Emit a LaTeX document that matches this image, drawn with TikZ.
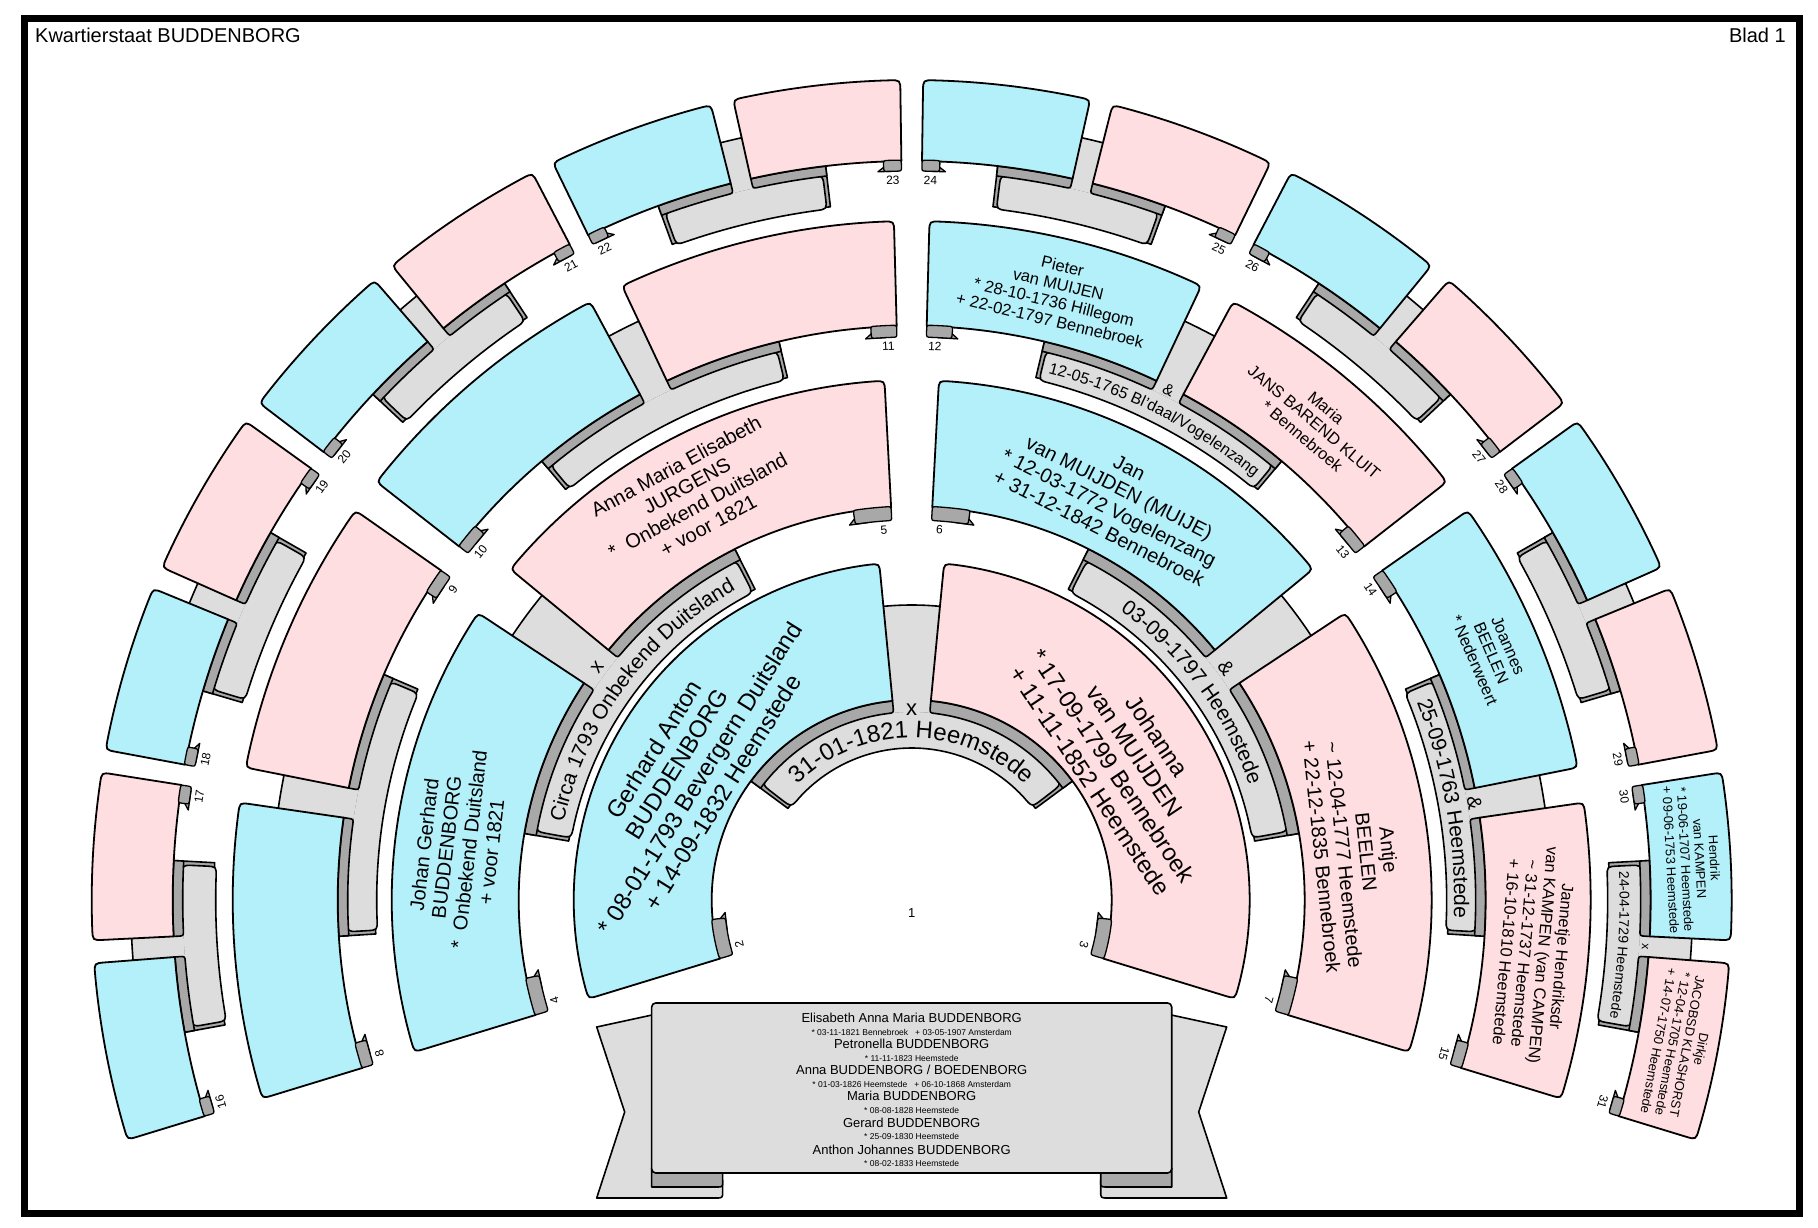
\documentclass[tikz,border=0pt]{standalone}
\usepackage{fontspec}
\setmainfont{Liberation Sans}
\usetikzlibrary{decorations.text}
\definecolor{mblue}{RGB}{180,240,250}
\definecolor{fpink}{RGB}{255,222,225}
\definecolor{lgray}{RGB}{221,221,221}
\definecolor{dgray}{RGB}{168,168,168}
% rounded annular sector: a1 a2 r1 r2, corner radii at (a1,r1) (a1,r2) (a2,r2) (a2,r1)
\newcommand{\RS}[8]{({#1}:{#3+#5}) -- ({#1}:{#4-#6}) .. controls ({#1}:{#4}) .. ({#1+#6/(#4)*57.2958}:{#4}) arc[start angle={#1+#6/(#4)*57.2958}, end angle={#2-#7/(#4)*57.2958}, radius={#4}] .. controls ({#2}:{#4}) .. ({#2}:{#4-#7}) -- ({#2}:{#3+#8}) .. controls ({#2}:{#3}) .. ({#2-#8/(#3)*57.2958}:{#3}) arc[start angle={#2-#8/(#3)*57.2958}, end angle={#1+#5/(#3)*57.2958}, radius={#3}] .. controls ({#1}:{#3}) .. ({#1}:{#3+#5}) -- cycle}
\begin{document}
\begin{tikzpicture}[x=1pt,y=1pt,
  boxst/.style={draw=black,line width=1.8pt,line join=round},
  ribst/.style={draw=black,fill=lgray,line width=1.6pt,line join=round},
  darkst/.style={draw=black,fill=dgray,line width=1.6pt,line join=round},
  tabst/.style={draw=black,fill=dgray,line width=1.3pt,line join=round},
  numlab/.style={font=\fontsize{12}{12}\selectfont,inner sep=0pt},
  ptxt/.style={align=center,inner sep=0pt},
  fa/.style={font=\fontsize{24}{27}\selectfont},
  fb/.style={font=\fontsize{20}{22.5}\selectfont},
  fc/.style={font=\fontsize{16.5}{18.5}\selectfont},
  fd/.style={font=\fontsize{13}{14.5}\selectfont},
  cname/.style={anchor=base,inner sep=0pt,font=\fontsize{13}{13}\selectfont},
  cdate/.style={anchor=base,inner sep=0pt,font=\fontsize{8.5}{8.5}\selectfont},
]
\useasboundingbox (-911.7,-327) rectangle (906.3,900);
\fill[white] (-911.7,-327) rectangle (906.3,900);
\draw[line width=6.5pt] (-887.4,881.7) rectangle (888,-313.7);
\node[anchor=base west,font=\fontsize{20}{22}\selectfont,inner sep=0pt] (title) at (-876.7,857) {Kwartierstaat BUDDENBORG};
\node[anchor=base east,font=\fontsize{20}{22}\selectfont,inner sep=0pt] (blad) at (874.3,857) {Blad 1};

% ---------- marriage ribbons ----------
\foreach \n/\ri/\g/\W/\rr/\st/\tk in {1/200/11/37/13/295/12,2/393/6/36/13/479/12,3/574/3/30/11/640/10,4/739/1.6/34/11/781/10}{
  \pgfmathtruncatemacro\N{2^\n}
  \pgfmathsetmacro\s{214/\N}
  \pgfmathtruncatemacro\M{\N/2-1}
  \pgfmathsetmacro\dA{4/\ri*57.2958}
  \pgfmathsetmacro\rt{\ri-\tk+1}
  \pgfmathsetmacro\rb{\rt-\W}
  \foreach \jj in {0,...,\M}{
    \pgfmathsetmacro\cc{197-(2*\jj+1)*\s}
    \pgfmathsetmacro\am{\cc+\s/2}
    \pgfmathsetmacro\af{\cc-\s/2}
    \path[darkst] \RS{\am-2*\dA}{\am}{\rb+2}{\ri}{0}{0}{0}{0};
    \path[darkst] \RS{\af}{\af+2*\dA}{\rb+2}{\ri}{0}{0}{0}{0};
    \path[ribst] \RS{\af+\dA}{\am-\dA}{\rb}{\rt}{\rr}{\rr}{\rr}{\rr};
    \fill[lgray] \RS{\cc-\g}{\cc+\g}{\rt-1}{\st}{0}{0}{0}{0};
    \draw[line width=1.6pt] ({\cc-\g}:\st) arc[start angle={\cc-\g},end angle={\cc+\g},radius=\st];
    \path[darkst] \RS{\cc+\g/2}{\am}{\ri-\tk}{\ri}{6}{0}{0}{0};
    \path[darkst] \RS{\af}{\cc-\g/2}{\ri-\tk}{\ri}{0}{0}{0}{6};
  }
}

% ---------- person boxes ----------
\foreach \n/\ri/\ro/\g in {1/200/338/11,2/393/520/6,3/574/679/3,4/739/820/1.6}{
  \pgfmathtruncatemacro\N{2^\n}
  \pgfmathsetmacro\s{214/\N}
  \pgfmathtruncatemacro\last{\N-1}
  \foreach \ii in {0,...,\last}{
    \pgfmathsetmacro\hi{197-\ii*\s}
    \pgfmathsetmacro\lo{\hi-\s}
    \pgfmathsetmacro\hiT{\ii==0 ? \hi : \hi-\g/2}
    \pgfmathsetmacro\loT{\ii==\last ? \lo : \lo+\g/2}
    \pgfmathtruncatemacro\odd{mod(\ii,2)}
    \ifnum\odd=0 \def\col{mblue}\else\def\col{fpink}\fi
    \path[boxst,fill=\col] \RS{\loT}{\hiT}{\ri}{\ro}{0}{11}{11}{0};
  }
}

% ---------- number tabs ----------
\foreach \n/\ri/\g/\Lp/\h in {1/200/11/40/13,2/393/6/38/13,3/574/3/26/11,4/739/1.6/18/10}{
  \pgfmathtruncatemacro\N{2^\n}
  \pgfmathsetmacro\s{214/\N}
  \pgfmathtruncatemacro\last{\N-1}
  \pgfmathsetmacro\uu{57.2958/\ri}
  \foreach \ii in {0,...,\last}{
    \pgfmathsetmacro\hi{197-\ii*\s}
    \pgfmathsetmacro\lo{\hi-\s}
    \pgfmathsetmacro\hiT{\ii==0 ? \hi : \hi-\g/2}
    \pgfmathsetmacro\loT{\ii==\last ? \lo : \lo+\g/2}
    \pgfmathtruncatemacro\odd{mod(\ii,2)}
    \pgfmathtruncatemacro\kk{\N+\ii}
    \ifnum\odd=0 \let\at\hiT \def\sd{(-1)}\else \let\at\loT \def\sd{(1)}\fi
    \draw[tabst] ({\at+\sd*(\Lp-8)*\uu}:{\ri}) -- ({\at+\sd*(\Lp+6)*\uu}:{\ri-\h}) -- ({\at+\sd*(\Lp-14)*\uu}:{\ri-\h}) -- cycle;
    \pgfmathsetmacro\pa{min(\at,\at+\sd*\Lp*\uu)}
    \pgfmathsetmacro\pb{max(\at,\at+\sd*\Lp*\uu)}
    \path[tabst] \RS{\pa}{\pb}{\ri-\h}{\ri+1}{5}{5}{5}{5};
    \pgfmathsetmacro\la{\at+\sd*9*\uu}
    \node[numlab,rotate=\la-90] (n\kk) at (\la:{\ri-\h-9}) {\kk};
  }
}

\node[numlab,font=\fontsize{13}{13}\selectfont] (p1) at (0,-13) {1};

% ---------- person texts ----------
\node[ptxt,fa,rotate=58] (t2) at (150:258) {Gerhard Anton\\BUDDENBORG\\* 08-01-1793 Bevergern Duitsland\\+ 14-09-1832 Heemstede};
\node[ptxt,fa,rotate=-56.25] (t3) at (33.75:255) {Johanna\\van MUIJDEN\\* 17-09-1799 Bennebroek\\+ 11-11-1852 Heemstede};
\node[ptxt,fb,rotate=83.5] (t4) at (173.5:457) {Johan Gerhard\\BUDDENBORG\\* \ Onbekend Duitsland\\+ voor 1821};
\node[ptxt,fb,rotate=28.5] (t5) at (118.5:460) {Anna Maria Elisabeth\\JURGENS\\* \ Onbekend Duitsland\\+ voor 1821};
\node[ptxt,fb,rotate=-26.75] (t6) at (63.25:450) {Jan\\van MUIJDEN (MUIJE)\\* 12-03-1772 Vogelenzang\\+ 31-12-1842 Bennebroek};
\node[ptxt,fb,rotate=-84] (t7) at (6:446) {Antje\\BEELEN\\\textasciitilde{} 12-04-1777 Heemstede\\+ 22-12-1835 Bennebroek};
\node[ptxt,fc,rotate=-13.4] (t12) at (76.6:624) {Pieter\\van MUIJEN\\* 28-10-1736 Hillegom\\+ 22-02-1797 Bennebroek};
\node[ptxt,fc,rotate=-40.1] (t13) at (49.9:625) {Maria\\JANS BAREND KLUIT\\* Bennebroek};
\node[ptxt,fc,rotate=-66.9] (t14) at (23.1:630) {Joannes\\BEELEN\\* Nederweert};
\node[ptxt,fc,rotate=-95] (t15) at (-5:625) {Jannetje Hendriksdr\\van KAMPEN (van CAMPEN)\\\textasciitilde{} 31-12-1737 Heemstede\\+ 16-10-1810 Heemstede};
\node[ptxt,fd,rotate=-87] (t30) at (3:782) {Hendrik\\van KAMPEN\\* 19-06-1707 Heemstede\\+ 09-06-1753 Heemstede};
\node[ptxt,fd,rotate=-100.7] (t31) at (-10.7:782) {Dirkje\\JACOBSD KLASHORST\\* 12-04-1705 Heemstede\\+ 14-07-1750 Heemstede};

% ---------- marriage texts ----------
\path[decorate,decoration={text along path,text align=center,text={|\fontsize{24}{24}\selectfont|31-01-1821 Heemstede}}] (143.5:162) arc[start angle=143.5,end angle=36.5,radius=162];
\path[decorate,decoration={text along path,text align=center,text={|\fontsize{21}{21}\selectfont|Circa 1793 Onbekend Duitsland}}] (170.25:356.5) arc[start angle=170.25,end angle=116.75,radius=356.5];
\path[decorate,decoration={text along path,text align=center,text={|\fontsize{21}{21}\selectfont|03-09-1797 Heemstede}}] (63.25:356.5) arc[start angle=63.25,end angle=9.75,radius=356.5];
\path[decorate,decoration={text along path,text align=center,text={|\fontsize{16}{16}\selectfont|12-05-1765 Bl'daal/Vogelenzang}}] (76.625:544) arc[start angle=76.625,end angle=49.875,radius=544];
\path[decorate,decoration={text along path,text align=center,text={|\fontsize{21}{21}\selectfont|25-09-1763 Heemstede}}] (23.125:542.5) arc[start angle=23.125,end angle=-3.625,radius=542.5];
\path[decorate,decoration={text along path,text align=center,text={|\fontsize{14}{14}\selectfont|24-04-1729 Heemstede}}] (3.0625:708) arc[start angle=3.0625,end angle=-10.3125,radius=708];

\node[inner sep=0pt,font=\fontsize{22}{22}\selectfont] (m1) at (90:190) {x};
\node[inner sep=0pt,font=\fontsize{20}{20}\selectfont,rotate=53.5] (m2) at (143.5:391) {x};
\node[inner sep=0pt,font=\fontsize{20}{20}\selectfont,rotate=-53.5] (m3) at (36.5:391) {\&};
\node[inner sep=0pt,font=\fontsize{16}{16}\selectfont,rotate=-26.75] (m6) at (63.25:571) {\&};
\node[inner sep=0pt,font=\fontsize{20}{20}\selectfont,rotate=-80.25] (m7) at (9.75:571) {\&};
\node[inner sep=0pt,font=\fontsize{12}{12}\selectfont,rotate=-93.6] (m15) at (-3.625:735) {x};

% ---------- children banner ----------
\draw[ribst] (-315,-127) -- (-255,-114) -- (-255,-280) -- (-189,-280) -- (-189,-291) .. controls (-189,-298) .. (-196,-298) -- (-315,-298) -- (-287,-212) -- cycle;
\draw[ribst] (315,-127) -- (255,-114) -- (255,-280) -- (189,-280) -- (189,-291) .. controls (189,-298) .. (196,-298) -- (315,-298) -- (287,-212) -- cycle;
\draw[darkst] (-260,-268) -- (-195,-268) .. controls (-189,-268) .. (-189,-274) -- (-189,-281) .. controls (-189,-287) .. (-195,-287) -- (-260,-287) -- cycle;
\draw[darkst] (260,-268) -- (195,-268) .. controls (189,-268) .. (189,-274) -- (189,-281) .. controls (189,-287) .. (195,-287) -- (260,-287) -- cycle;
\draw[ribst,rounded corners=4] (-260,-103) rectangle (260,-273);
\node[cname] (c1) at (0,-122.4) {Elisabeth Anna Maria BUDDENBORG};
\node[cdate] (d1) at (0,-135.7) {* 03-11-1821 Bennebroek\hspace{7pt}+ 03-05-1907 Amsterdam};
\node[cname] (c2) at (0,-148.4) {Petronella BUDDENBORG};
\node[cdate] (d2) at (0,-161.3) {* 11-11-1823 Heemstede};
\node[cname] (c3) at (0,-174.7) {Anna BUDDENBORG / BOEDENBORG};
\node[cdate] (d3) at (0,-187.3) {* 01-03-1826 Heemstede\hspace{7pt}+ 06-10-1868 Amsterdam};
\node[cname] (c4) at (0,-200.7) {Maria BUDDENBORG};
\node[cdate] (d4) at (0,-213) {* 08-08-1828 Heemstede};
\node[cname] (c5) at (0,-227.4) {Gerard BUDDENBORG};
\node[cdate] (d5) at (0,-239.7) {* 25-09-1830 Heemstede};
\node[cname] (c6) at (0,-254) {Anthon Johannes BUDDENBORG};
\node[cdate] (d6) at (0,-266.3) {* 08-02-1833 Heemstede};
\end{tikzpicture}
\end{document}
